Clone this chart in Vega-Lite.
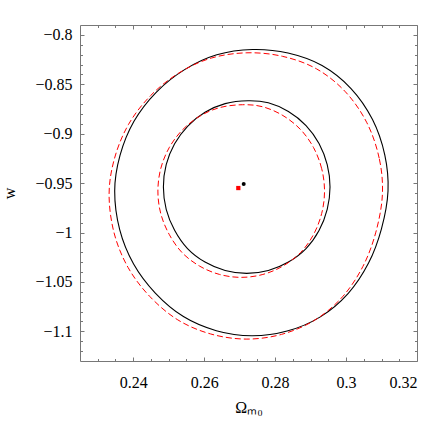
{
  "$schema": "https://vega.github.io/schema/vega-lite/v6.json",
  "width": 337,
  "height": 336,
  "autosize": {"type": "none"},
  "padding": {"left": 80, "top": 25, "right": 19, "bottom": 75},
  "background": "white",
  "config": {
    "view": {"stroke": "#777777", "strokeWidth": 1},
    "axis": {
      "grid": false,
      "domain": false,
      "labelFont": "Liberation Serif",
      "labelFontSize": 16,
      "labelColor": "black",
      "titleFont": "Liberation Serif",
      "titleFontSize": 16,
      "titleFontWeight": "normal",
      "titleColor": "black",
      "tickColor": "#777777",
      "tickWidth": 1
    }
  },
  "datasets": {
    "contours": [
      {"s":"solid","c":"outer","i":0,"x":0.31183,"y":-0.95802},
      {"s":"solid","c":"outer","i":1,"x":0.31093,"y":-0.92158},
      {"s":"solid","c":"outer","i":2,"x":0.30746,"y":-0.88565},
      {"s":"solid","c":"outer","i":3,"x":0.30140,"y":-0.85427},
      {"s":"solid","c":"outer","i":4,"x":0.29323,"y":-0.83099},
      {"s":"solid","c":"outer","i":5,"x":0.28364,"y":-0.81834},
      {"s":"solid","c":"outer","i":6,"x":0.27363,"y":-0.81480},
      {"s":"solid","c":"outer","i":7,"x":0.26357,"y":-0.82016},
      {"s":"solid","c":"outer","i":8,"x":0.25449,"y":-0.83514},
      {"s":"solid","c":"outer","i":9,"x":0.24648,"y":-0.85812},
      {"s":"solid","c":"outer","i":10,"x":0.24022,"y":-0.88747},
      {"s":"solid","c":"outer","i":11,"x":0.23628,"y":-0.92198},
      {"s":"solid","c":"outer","i":12,"x":0.23478,"y":-0.95802},
      {"s":"solid","c":"outer","i":13,"x":0.23619,"y":-0.99709},
      {"s":"solid","c":"outer","i":14,"x":0.24011,"y":-1.03190},
      {"s":"solid","c":"outer","i":15,"x":0.24623,"y":-1.06126},
      {"s":"solid","c":"outer","i":16,"x":0.25415,"y":-1.08504},
      {"s":"solid","c":"outer","i":17,"x":0.26343,"y":-1.09931},
      {"s":"solid","c":"outer","i":18,"x":0.27341,"y":-1.10448},
      {"s":"solid","c":"outer","i":19,"x":0.28339,"y":-1.09972},
      {"s":"solid","c":"outer","i":20,"x":0.29275,"y":-1.08534},
      {"s":"solid","c":"outer","i":21,"x":0.30056,"y":-1.06176},
      {"s":"solid","c":"outer","i":22,"x":0.30634,"y":-1.03089},
      {"s":"solid","c":"outer","i":23,"x":0.30998,"y":-0.99628},
      {"s":"solid","c":"inner","i":0,"x":0.29548,"y":-0.95397},
      {"s":"solid","c":"inner","i":1,"x":0.29469,"y":-0.93140},
      {"s":"solid","c":"inner","i":2,"x":0.29238,"y":-0.90994},
      {"s":"solid","c":"inner","i":3,"x":0.28872,"y":-0.89172},
      {"s":"solid","c":"inner","i":4,"x":0.28375,"y":-0.87755},
      {"s":"solid","c":"inner","i":5,"x":0.27809,"y":-0.86874},
      {"s":"solid","c":"inner","i":6,"x":0.27236,"y":-0.86662},
      {"s":"solid","c":"inner","i":7,"x":0.26591,"y":-0.86955},
      {"s":"solid","c":"inner","i":8,"x":0.26024,"y":-0.87836},
      {"s":"solid","c":"inner","i":9,"x":0.25539,"y":-0.89223},
      {"s":"solid","c":"inner","i":10,"x":0.25167,"y":-0.91024},
      {"s":"solid","c":"inner","i":11,"x":0.24930,"y":-0.93140},
      {"s":"solid","c":"inner","i":12,"x":0.24851,"y":-0.95397},
      {"s":"solid","c":"inner","i":13,"x":0.24930,"y":-0.97654},
      {"s":"solid","c":"inner","i":14,"x":0.25167,"y":-0.99769},
      {"s":"solid","c":"inner","i":15,"x":0.25531,"y":-1.01621},
      {"s":"solid","c":"inner","i":16,"x":0.26024,"y":-1.02988},
      {"s":"solid","c":"inner","i":17,"x":0.26591,"y":-1.03838},
      {"s":"solid","c":"inner","i":18,"x":0.27200,"y":-1.04132},
      {"s":"solid","c":"inner","i":19,"x":0.27809,"y":-1.03838},
      {"s":"solid","c":"inner","i":20,"x":0.28375,"y":-1.02988},
      {"s":"solid","c":"inner","i":21,"x":0.28872,"y":-1.01621},
      {"s":"solid","c":"inner","i":22,"x":0.29238,"y":-0.99800},
      {"s":"solid","c":"inner","i":23,"x":0.29469,"y":-0.97654},
      {"s":"dashed","c":"outer","i":0,"x":0.31025,"y":-0.96136},
      {"s":"dashed","c":"outer","i":1,"x":0.30935,"y":-0.92492},
      {"s":"dashed","c":"outer","i":2,"x":0.30588,"y":-0.88899},
      {"s":"dashed","c":"outer","i":3,"x":0.29982,"y":-0.85761},
      {"s":"dashed","c":"outer","i":4,"x":0.29165,"y":-0.83433},
      {"s":"dashed","c":"outer","i":5,"x":0.28206,"y":-0.82168},
      {"s":"dashed","c":"outer","i":6,"x":0.27205,"y":-0.81814},
      {"s":"dashed","c":"outer","i":7,"x":0.26199,"y":-0.82350},
      {"s":"dashed","c":"outer","i":8,"x":0.25291,"y":-0.83848},
      {"s":"dashed","c":"outer","i":9,"x":0.24490,"y":-0.86146},
      {"s":"dashed","c":"outer","i":10,"x":0.23864,"y":-0.89081},
      {"s":"dashed","c":"outer","i":11,"x":0.23470,"y":-0.92532},
      {"s":"dashed","c":"outer","i":12,"x":0.23320,"y":-0.96136},
      {"s":"dashed","c":"outer","i":13,"x":0.23461,"y":-1.00043},
      {"s":"dashed","c":"outer","i":14,"x":0.23853,"y":-1.03524},
      {"s":"dashed","c":"outer","i":15,"x":0.24465,"y":-1.06460},
      {"s":"dashed","c":"outer","i":16,"x":0.25257,"y":-1.08838},
      {"s":"dashed","c":"outer","i":17,"x":0.26185,"y":-1.10265},
      {"s":"dashed","c":"outer","i":18,"x":0.27183,"y":-1.10782},
      {"s":"dashed","c":"outer","i":19,"x":0.28181,"y":-1.10306},
      {"s":"dashed","c":"outer","i":20,"x":0.29117,"y":-1.08868},
      {"s":"dashed","c":"outer","i":21,"x":0.29898,"y":-1.06510},
      {"s":"dashed","c":"outer","i":22,"x":0.30476,"y":-1.03423},
      {"s":"dashed","c":"outer","i":23,"x":0.30840,"y":-0.99962},
      {"s":"dashed","c":"inner","i":0,"x":0.29393,"y":-0.95802},
      {"s":"dashed","c":"inner","i":1,"x":0.29314,"y":-0.93545},
      {"s":"dashed","c":"inner","i":2,"x":0.29083,"y":-0.91399},
      {"s":"dashed","c":"inner","i":3,"x":0.28717,"y":-0.89577},
      {"s":"dashed","c":"inner","i":4,"x":0.28220,"y":-0.88160},
      {"s":"dashed","c":"inner","i":5,"x":0.27654,"y":-0.87279},
      {"s":"dashed","c":"inner","i":6,"x":0.27081,"y":-0.87067},
      {"s":"dashed","c":"inner","i":7,"x":0.26436,"y":-0.87360},
      {"s":"dashed","c":"inner","i":8,"x":0.25869,"y":-0.88241},
      {"s":"dashed","c":"inner","i":9,"x":0.25384,"y":-0.89628},
      {"s":"dashed","c":"inner","i":10,"x":0.25012,"y":-0.91429},
      {"s":"dashed","c":"inner","i":11,"x":0.24775,"y":-0.93545},
      {"s":"dashed","c":"inner","i":12,"x":0.24696,"y":-0.95802},
      {"s":"dashed","c":"inner","i":13,"x":0.24775,"y":-0.98059},
      {"s":"dashed","c":"inner","i":14,"x":0.25012,"y":-1.00174},
      {"s":"dashed","c":"inner","i":15,"x":0.25376,"y":-1.02026},
      {"s":"dashed","c":"inner","i":16,"x":0.25869,"y":-1.03393},
      {"s":"dashed","c":"inner","i":17,"x":0.26436,"y":-1.04243},
      {"s":"dashed","c":"inner","i":18,"x":0.27045,"y":-1.04537},
      {"s":"dashed","c":"inner","i":19,"x":0.27654,"y":-1.04243},
      {"s":"dashed","c":"inner","i":20,"x":0.28220,"y":-1.03393},
      {"s":"dashed","c":"inner","i":21,"x":0.28717,"y":-1.02026},
      {"s":"dashed","c":"inner","i":22,"x":0.29083,"y":-1.00205},
      {"s":"dashed","c":"inner","i":23,"x":0.29314,"y":-0.98059}
    ],
    "points": [
      {"p":"best","x":0.27115,"y":-0.95093},
      {"p":"fid","x":0.26963,"y":-0.95498}
    ]
  },
  "layer": [
    {
      "data": {"name": "contours"},
      "transform": [{"filter": "datum.s === 'solid'"}],
      "mark": {"type": "line", "color": "black", "strokeWidth": 1.1, "interpolate": "cardinal-closed"},
      "encoding": {
        "x": {"field": "x", "type": "quantitative",
              "scale": {"domain": [0.225, 0.32], "nice": false, "zero": false},
              "axis": {"orient": "bottom", "values": [0.24, 0.26, 0.28, 0.3, 0.32], "format": "~g",
                       "tickSize": -4, "labelPadding": 17, "title": "Ωₘ₀", "titlePadding": 9}},
        "y": {"field": "y", "type": "quantitative",
              "scale": {"domain": [-1.13, -0.79], "nice": false, "zero": false},
              "axis": {"orient": "left", "values": [-1.1, -1.05, -1, -0.95, -0.9, -0.85, -0.8], "format": "~g",
                       "tickSize": -4, "labelPadding": 12, "title": "w", "titlePadding": 17}},
        "detail": {"field": "c"},
        "order": {"field": "i", "type": "quantitative"}
      }
    },
    {
      "data": {"name": "contours"},
      "transform": [{"filter": "datum.s === 'dashed'"}],
      "mark": {"type": "line", "color": "#ff0000", "strokeWidth": 1, "strokeDash": [6, 3], "interpolate": "cardinal-closed"},
      "encoding": {
        "x": {"field": "x", "type": "quantitative",
              "axis": {"orient": "bottom", "values": [0.23, 0.235, 0.245, 0.25, 0.255, 0.265, 0.27, 0.275, 0.285, 0.29, 0.295, 0.305, 0.31, 0.315],
                       "labels": false, "tickSize": -2.5, "title": null}},
        "y": {"field": "y", "type": "quantitative",
              "axis": {"orient": "left", "values": [-1.12, -1.11, -1.09, -1.08, -1.07, -1.06, -1.04, -1.03, -1.02, -1.01, -0.99, -0.98, -0.97, -0.96, -0.94, -0.93, -0.92, -0.91, -0.89, -0.88, -0.87, -0.86, -0.84, -0.83, -0.82, -0.81],
                       "labels": false, "tickSize": -2.5, "title": null}},
        "detail": {"field": "c"},
        "order": {"field": "i", "type": "quantitative"}
      }
    },
    {
      "data": {"name": "points"},
      "transform": [{"filter": "datum.p === 'fid'"}],
      "mark": {"type": "square", "color": "#ff0000", "filled": true, "size": 18, "opacity": 1},
      "encoding": {
        "x": {"field": "x", "type": "quantitative",
              "axis": {"orient": "top", "values": [0.24, 0.26, 0.28, 0.3, 0.32], "labels": false, "tickSize": -4, "title": null}},
        "y": {"field": "y", "type": "quantitative",
              "axis": {"orient": "right", "values": [-1.1, -1.05, -1, -0.95, -0.9, -0.85, -0.8], "labels": false, "tickSize": -4, "title": null}}
      }
    },
    {
      "data": {"name": "points"},
      "transform": [{"filter": "datum.p === 'best'"}],
      "mark": {"type": "circle", "color": "black", "size": 16, "opacity": 1},
      "encoding": {
        "x": {"field": "x", "type": "quantitative",
              "axis": {"orient": "top", "values": [0.23, 0.235, 0.245, 0.25, 0.255, 0.265, 0.27, 0.275, 0.285, 0.29, 0.295, 0.305, 0.31, 0.315],
                       "labels": false, "tickSize": -2.5, "title": null}},
        "y": {"field": "y", "type": "quantitative",
              "axis": {"orient": "right", "values": [-1.12, -1.11, -1.09, -1.08, -1.07, -1.06, -1.04, -1.03, -1.02, -1.01, -0.99, -0.98, -0.97, -0.96, -0.94, -0.93, -0.92, -0.91, -0.89, -0.88, -0.87, -0.86, -0.84, -0.83, -0.82, -0.81],
                       "labels": false, "tickSize": -2.5, "title": null}}
      }
    }
  ],
  "resolve": {"axis": {"x": "independent", "y": "independent"}}
}
